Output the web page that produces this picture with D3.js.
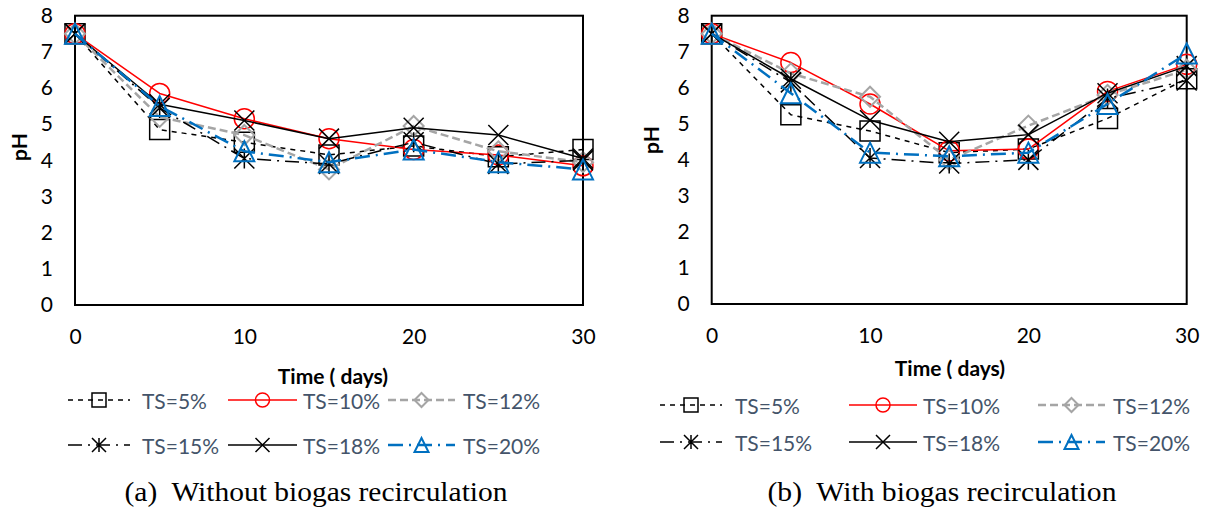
<!DOCTYPE html>
<html>
<head>
<meta charset="utf-8">
<script src="https://cdn.jsdelivr.net/npm/d3@7"></script>
<style>
  body { margin: 0; background: #fff; }
  svg { display: block; }
  text { white-space: pre; }
</style>
</head>
<body>
<svg id="chart" width="1209" height="515"></svg>
<script>
// ---- data ----
const days = [0, 5, 10, 15, 20, 25, 30];
const seriesLabels = ["TS=5%", "TS=10%", "TS=12%", "TS=15%", "TS=18%", "TS=20%"];
const yTicks = [0, 1, 2, 3, 4, 5, 6, 7, 8];
const xTicks = [0, 10, 20, 30];
const captions = ["(a)  Without biogas recirculation", "(b)  With biogas recirculation"];

// pH without biogas recirculation
const noRecTS5  = [7.5, 4.85, 4.5, 4.15, 4.4, 4.1, 4.3];
const noRecTS10 = [7.5, 5.85, 5.15, 4.6, 4.3, 4.15, 3.85];
const noRecTS12 = [7.5, 5.2, 4.7, 3.75, 4.95, 4.25, 3.95];
const noRecTS15 = [7.5, 5.45, 4.05, 3.9, 4.5, 3.9, 4.0];
const noRecTS18 = [7.5, 5.55, 5.1, 4.6, 4.9, 4.7, 4.05];
const noRecTS20 = [7.5, 5.5, 4.25, 3.95, 4.3, 3.95, 3.75];

// pH with biogas recirculation
const recTS5  = [7.5, 5.25, 4.8, 4.2, 4.3, 5.15, 6.25];
const recTS10 = [7.5, 6.7, 5.55, 4.25, 4.3, 5.9, 6.65];
const recTS12 = [7.5, 6.4, 5.75, 4.0, 4.95, 5.8, 6.5];
const recTS15 = [7.5, 6.15, 4.05, 3.9, 4.0, 5.7, 6.2];
const recTS18 = [7.5, 6.25, 5.1, 4.5, 4.7, 5.85, 6.6];
const recTS20 = [7.5, 5.85, 4.2, 4.1, 4.2, 5.55, 6.95];

// ---- series styling ----
const styles = [
  { color: "#000000", width: 1.5, dash: "5,5",          marker: "square",   mWidth: 1.5 },
  { color: "#FF0000", width: 1.5, dash: null,           marker: "circle",   mWidth: 1.5 },
  { color: "#A5A5A5", width: 2.5, dash: "8,4",          marker: "diamond",  mWidth: 2 },
  { color: "#000000", width: 1.5, dash: "14,6,2,6",     marker: "asterisk", mWidth: 1.5 },
  { color: "#000000", width: 1.5, dash: null,           marker: "x",        mWidth: 1.5 },
  { color: "#0070C0", width: 2.5, dash: "15,6,2,6",     marker: "triangle", mWidth: 2 }
];

const panels = [
  {
    series: [noRecTS5, noRecTS10, noRecTS12, noRecTS15, noRecTS18, noRecTS20],
    left: 75, right: 583, top: 15.7, bottom: 305,
    yLabel: [18, 147], xLabel: [333, 375],
    caption: [316, 501, 383],
    legendRows: [400, 445],
    legendCols: [[68, 130, 142], [228, 297, 303], [388, 455, 463]]
  },
  {
    series: [recTS5, recTS10, recTS12, recTS15, recTS18, recTS20],
    left: 711.7, right: 1186.7, top: 15.7, bottom: 304,
    yLabel: [650, 140], xLabel: [950, 367],
    caption: [942, 501, 349],
    legendRows: [405, 442],
    legendCols: [[660, 722, 735], [849, 917, 923], [1038, 1105, 1113]]
  }
];

const svg = d3.select("#chart");

function markerPath(type, s) {
  const h = s / 2;
  const p = d3.path();
  switch (type) {
    case "square":
      p.rect(-h, -h, s, s); break;
    case "circle":
      p.moveTo(h, 0); p.arc(0, 0, h, 0, 2 * Math.PI); p.closePath(); break;
    case "diamond":
      p.moveTo(0, -h); p.lineTo(h, 0); p.lineTo(0, h); p.lineTo(-h, 0); p.closePath(); break;
    case "triangle":
      p.moveTo(0, -h); p.lineTo(h, h); p.lineTo(-h, h); p.closePath(); break;
    case "x":
      p.moveTo(-h, -h); p.lineTo(h, h); p.moveTo(h, -h); p.lineTo(-h, h); break;
    case "asterisk":
      p.moveTo(-h, -h); p.lineTo(h, h); p.moveTo(h, -h); p.lineTo(-h, h);
      p.moveTo(0, -h); p.lineTo(0, h); break;
  }
  return p.toString();
}

panels.forEach((pn, pi) => {
  const x = d3.scaleLinear().domain([0, 30]).range([pn.left, pn.right]);
  const y = d3.scaleLinear().domain([0, 8]).range([pn.bottom, pn.top]);
  const g = svg.append("g").attr("class", "panel-" + pi);

  // axes (labels only, no tick marks)
  const yAxis = g.append("g")
    .attr("transform", `translate(${pn.left},0)`)
    .call(d3.axisLeft(y).tickValues(yTicks).tickSize(0).tickPadding(22).tickFormat(d3.format("d")));
  yAxis.select(".domain").remove();
  yAxis.selectAll("text").attr("font-family", "Lato, sans-serif").attr("font-size", 21).attr("fill", "#000");

  const xAxis = g.append("g")
    .attr("transform", `translate(0,${pn.bottom})`)
    .call(d3.axisBottom(x).tickValues(xTicks).tickSize(0).tickPadding(24).tickFormat(d3.format("d")));
  xAxis.select(".domain").remove();
  xAxis.selectAll("text").attr("font-family", "Lato, sans-serif").attr("font-size", 21).attr("fill", "#000");

  // plot-area frame
  g.append("rect")
    .attr("x", pn.left).attr("y", pn.top)
    .attr("width", pn.right - pn.left).attr("height", pn.bottom - pn.top)
    .attr("fill", "none").attr("stroke", "#000").attr("stroke-width", 2);

  // series lines and markers
  const line = d3.line().x((d, i) => x(days[i])).y(d => y(d));
  pn.series.forEach((vals, si) => {
    const st = styles[si];
    const sg = g.append("g");
    sg.append("path")
      .attr("d", line(vals))
      .attr("fill", "none")
      .attr("stroke", st.color)
      .attr("stroke-width", st.width)
      .attr("stroke-dasharray", st.dash)
      .attr("stroke-linejoin", "round");
    sg.selectAll("path.mk").data(vals).join("path")
      .attr("class", "mk")
      .attr("transform", (d, i) => `translate(${x(days[i])},${y(d)})`)
      .attr("d", markerPath(st.marker, 20))
      .attr("fill", "none")
      .attr("stroke", st.color)
      .attr("stroke-width", st.mWidth);
  });

  // axis titles
  g.append("text")
    .attr("transform", `translate(${pn.yLabel[0]},${pn.yLabel[1]}) rotate(-90)`)
    .attr("text-anchor", "middle").attr("dominant-baseline", "central")
    .attr("font-family", "Lato, sans-serif").attr("font-weight", "bold").attr("font-size", 21)
    .text("pH");
  g.append("text")
    .attr("x", pn.xLabel[0]).attr("y", pn.xLabel[1])
    .attr("text-anchor", "middle").attr("dominant-baseline", "central")
    .attr("font-family", "Lato, sans-serif").attr("font-weight", "bold").attr("font-size", 21)
    .text("Time ( days)");

  // legend: two rows of three entries
  seriesLabels.forEach((lab, si) => {
    const st = styles[si];
    const row = Math.floor(si / 3), col = si % 3;
    const [x0, x1, tx] = pn.legendCols[col];
    const ly = pn.legendRows[row];
    const lg = g.append("g");
    lg.append("line")
      .attr("x1", x0).attr("x2", x1).attr("y1", ly).attr("y2", ly)
      .attr("stroke", st.color).attr("stroke-width", st.width)
      .attr("stroke-dasharray", st.dash);
    lg.append("path")
      .attr("transform", `translate(${(x0 + x1) / 2},${ly})`)
      .attr("d", markerPath(st.marker, 14))
      .attr("fill", "none").attr("stroke", st.color).attr("stroke-width", st.mWidth);
    lg.append("text")
      .attr("x", tx).attr("y", ly).attr("dominant-baseline", "central")
      .attr("font-family", "Lato, sans-serif").attr("font-size", 21).attr("fill", "#44546A")
      .text(lab);
  });

  // panel caption
  g.append("text")
    .attr("x", pn.caption[0]).attr("y", pn.caption[1])
    .attr("text-anchor", "middle")
    .attr("textLength", pn.caption[2]).attr("lengthAdjust", "spacingAndGlyphs")
    .attr("font-family", "'Liberation Serif', 'Times New Roman', serif").attr("font-size", 28)
    .text(captions[pi]);
});
</script>
</body>
</html>
